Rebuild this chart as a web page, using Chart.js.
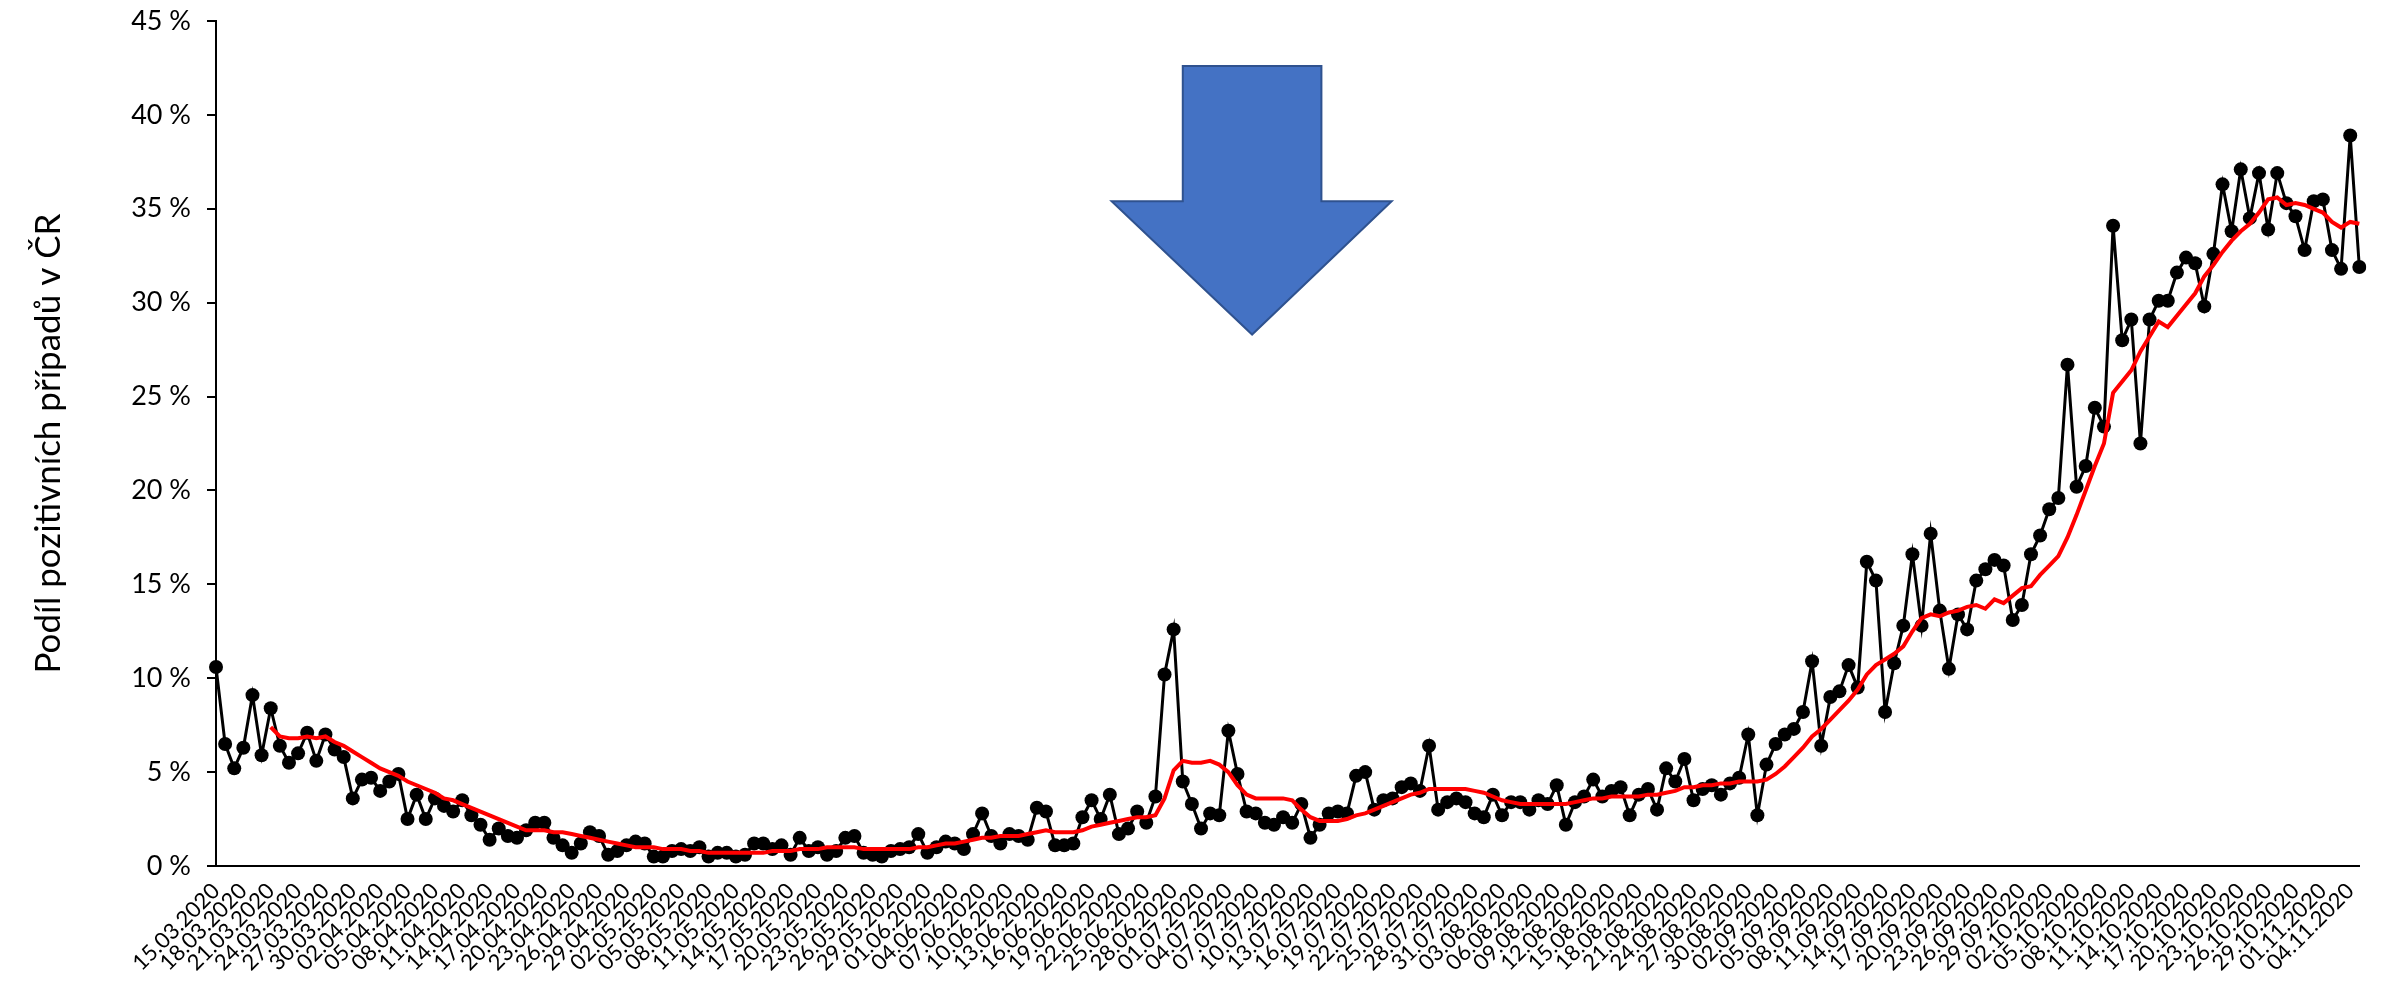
<!DOCTYPE html>
<html>
<head>
<meta charset="utf-8">
<script src="https://cdn.jsdelivr.net/npm/chart.js@4"></script>
<style>
  html, body { margin: 0; padding: 0; background: #fff; }
  canvas { display: block; }
</style>
</head>
<body>
<canvas id="chart" width="2382" height="992"></canvas>
<script>
// daily share of positive tests in CR, 15.03.2020 - 05.11.2020 (%)
const startDate = new Date(2020, 2, 15);
const positivity = [
    10.6, 6.5, 5.2, 6.3, 9.1, 5.9, 8.4, 6.4, 5.5, 6.0,
    7.1, 5.6, 7.0, 6.2, 5.8, 3.6, 4.6, 4.7, 4.0, 4.5,
    4.9, 2.5, 3.8, 2.5, 3.6, 3.2, 2.9, 3.5, 2.7, 2.2,
    1.4, 2.0, 1.6, 1.5, 1.9, 2.3, 2.3, 1.5, 1.1, 0.7,
    1.2, 1.8, 1.6, 0.6, 0.8, 1.1, 1.3, 1.2, 0.5, 0.5,
    0.8, 0.9, 0.8, 1.0, 0.5, 0.7, 0.7, 0.5, 0.6, 1.2,
    1.2, 0.9, 1.1, 0.6, 1.5, 0.8, 1.0, 0.6, 0.8, 1.5,
    1.6, 0.7, 0.6, 0.5, 0.8, 0.9, 1.0, 1.7, 0.7, 1.0,
    1.3, 1.2, 0.9, 1.7, 2.8, 1.6, 1.2, 1.7, 1.6, 1.4,
    3.1, 2.9, 1.1, 1.1, 1.2, 2.6, 3.5, 2.5, 3.8, 1.7,
    2.0, 2.9, 2.3, 3.7, 10.2, 12.6, 4.5, 3.3, 2.0, 2.8,
    2.7, 7.2, 4.9, 2.9, 2.8, 2.3, 2.2, 2.6, 2.3, 3.3,
    1.5, 2.2, 2.8, 2.9, 2.8, 4.8, 5.0, 3.0, 3.5, 3.6,
    4.2, 4.4, 4.0, 6.4, 3.0, 3.4, 3.6, 3.4, 2.8, 2.6,
    3.8, 2.7, 3.4, 3.4, 3.0, 3.5, 3.3, 4.3, 2.2, 3.4,
    3.7, 4.6, 3.7, 4.0, 4.2, 2.7, 3.8, 4.1, 3.0, 5.2,
    4.5, 5.7, 3.5, 4.1, 4.3, 3.8, 4.4, 4.7, 7.0, 2.7,
    5.4, 6.5, 7.0, 7.3, 8.2, 10.9, 6.4, 9.0, 9.3, 10.7,
    9.5, 16.2, 15.2, 8.2, 10.8, 12.8, 16.6, 12.8, 17.7, 13.6,
    10.5, 13.4, 12.6, 15.2, 15.8, 16.3, 16.0, 13.1, 13.9, 16.6,
    17.6, 19.0, 19.6, 26.7, 20.2, 21.3, 24.4, 23.4, 34.1, 28.0,
    29.1, 22.5, 29.1, 30.1, 30.1, 31.6, 32.4, 32.1, 29.8, 32.6,
    36.3, 33.8, 37.1, 34.5, 36.9, 33.9, 36.9, 35.3, 34.6, 32.8,
    35.4, 35.5, 32.8, 31.8, 38.9, 31.9
];
// 7-day average (red line), first six days empty
const average7 = [
    null, null, null, null, null, null, 7.4, 6.9, 6.8, 6.8,
    6.9, 6.8, 6.9, 6.6, 6.4, 6.1, 5.8, 5.5, 5.2, 5.0,
    4.8, 4.5, 4.3, 4.1, 3.9, 3.6, 3.5, 3.3, 3.1, 2.9,
    2.7, 2.5, 2.3, 2.1, 1.9, 1.9, 1.9, 1.8, 1.8, 1.7,
    1.6, 1.5, 1.4, 1.3, 1.2, 1.1, 1.0, 1.0, 1.0, 0.9,
    0.9, 0.9, 0.8, 0.8, 0.7, 0.7, 0.7, 0.7, 0.7, 0.7,
    0.7, 0.8, 0.8, 0.8, 0.9, 0.9, 0.9, 1.0, 1.0, 1.0,
    1.0, 0.9, 0.9, 0.9, 0.9, 0.9, 0.9, 1.0, 1.0, 1.1,
    1.2, 1.2, 1.3, 1.4, 1.5, 1.5, 1.6, 1.6, 1.6, 1.7,
    1.8, 1.9, 1.8, 1.8, 1.8, 1.9, 2.1, 2.2, 2.3, 2.4,
    2.5, 2.6, 2.6, 2.7, 3.6, 5.1, 5.6, 5.5, 5.5, 5.6,
    5.4, 5.0, 4.3, 3.8, 3.6, 3.6, 3.6, 3.6, 3.5, 3.0,
    2.6, 2.4, 2.4, 2.4, 2.5, 2.7, 2.8, 3.0, 3.2, 3.4,
    3.6, 3.8, 3.9, 4.1, 4.1, 4.1, 4.1, 4.1, 4.0, 3.9,
    3.7, 3.5, 3.4, 3.3, 3.3, 3.3, 3.3, 3.3, 3.3, 3.4,
    3.5, 3.6, 3.6, 3.7, 3.7, 3.7, 3.7, 3.8, 3.8, 3.9,
    4.0, 4.2, 4.2, 4.3, 4.3, 4.4, 4.4, 4.5, 4.5, 4.5,
    4.6, 4.9, 5.3, 5.8, 6.3, 6.9, 7.3, 7.8, 8.3, 8.8,
    9.4, 10.2, 10.7, 11.0, 11.3, 11.7, 12.5, 13.2, 13.4, 13.3,
    13.5, 13.6, 13.8, 13.9, 13.7, 14.2, 14.0, 14.4, 14.8, 14.9,
    15.5, 16.0, 16.5, 17.5, 18.7, 20.0, 21.3, 22.5, 25.2, 25.8,
    26.4, 27.4, 28.2, 29.0, 28.7, 29.3, 29.9, 30.5, 31.4, 32.0,
    32.7, 33.3, 33.8, 34.2, 34.8, 35.5, 35.6, 35.2, 35.3, 35.2,
    35.0, 34.8, 34.3, 34.0, 34.3, 34.2
];
const yTicks = [0, 5, 10, 15, 20, 25, 30, 35, 40, 45];
const labelEvery = 3;

const dates = positivity.map((_v, i) => {
    let d = new Date(startDate);
    d.setDate(d.getDate() + i);
    let dd = String(d.getDate()).padStart(2, '0');
    let mm = String(d.getMonth() + 1).padStart(2, '0');
    return dd + '.' + mm + '.' + d.getFullYear();
});

const FONT = "Lato, 'Open Sans', sans-serif";

// big blue arrow, placed in axis units (category index, percent)
const arrowPlugin = {
    id: 'arrow',
    afterDatasetsDraw(chart) {
        const x = chart.scales.x, y = chart.scales.y, ctx = chart.ctx;
        const pts = [
            [106.0, 42.6], [121.2, 42.6], [121.2, 35.4], [128.9, 35.4],
            [113.6, 28.3], [98.2, 35.4], [106.0, 35.4]
        ];
        ctx.save();
        ctx.beginPath();
        pts.forEach((p, i) => {
            let px = x.getPixelForValue(p[0]), py = y.getPixelForValue(p[1]);
            if (i == 0) ctx.moveTo(px, py); else ctx.lineTo(px, py);
        });
        ctx.closePath();
        ctx.fillStyle = '#4472C4';
        ctx.fill();
        ctx.lineWidth = 2;
        ctx.strokeStyle = '#2F528F';
        ctx.stroke();
        ctx.restore();
    }
};

new Chart(document.getElementById('chart'), {
    type: 'line',
    data: {
        labels: dates,
        datasets: [{
            data: average7,
            borderColor: '#FF0000',
            borderWidth: 4,
            pointRadius: 0,
            tension: 0,
            order: 0
        }, {
            data: positivity,
            borderColor: '#000000',
            backgroundColor: '#000000',
            borderWidth: 3,
            pointRadius: 7,
            pointBackgroundColor: '#000000',
            pointBorderWidth: 0,
            tension: 0,
            order: 1
        }]
    },
    options: {
        responsive: false,
        devicePixelRatio: 1,
        animation: false,
        layout: { padding: { top: 21, right: 12, left: 0, bottom: 0 } },
        plugins: {
            legend: { display: false },
            tooltip: { enabled: false }
        },
        scales: {
            x: {
                offset: false,
                grid: { display: false },
                border: { color: '#000', width: 2 },
                ticks: {
                    autoSkip: false,
                    minRotation: 45,
                    maxRotation: 45,
                    color: '#000',
                    padding: 4,
                    font: { family: FONT, size: 22 },
                    callback: (_v, i) => i % labelEvery == 0 ? dates[i] : ''
                },
                afterFit: scale => { scale.height = 126; }
            },
            y: {
                min: 0,
                max: 45,
                afterBuildTicks: scale => { scale.ticks = yTicks.map(v => ({ value: v })); },
                grid: {
                    drawOnChartArea: false,
                    drawTicks: true,
                    tickLength: 9,
                    color: '#000',
                    lineWidth: 2
                },
                border: { color: '#000', width: 2 },
                ticks: {
                    color: '#000',
                    padding: 16,
                    font: { family: FONT, size: 27 },
                    callback: v => v + ' %'
                },
                title: {
                    display: true,
                    text: 'Podíl pozitivních případů v ČR',
                    color: '#000',
                    font: { family: FONT, size: 35 },
                    padding: { top: 28, bottom: 0 }
                },
                afterFit: scale => {
                    scale.width = 216;
                    scale.paddingTop = 0;
                    scale.paddingBottom = 0;
                }
            }
        }
    },
    plugins: [arrowPlugin]
});
</script>
</body>
</html>
